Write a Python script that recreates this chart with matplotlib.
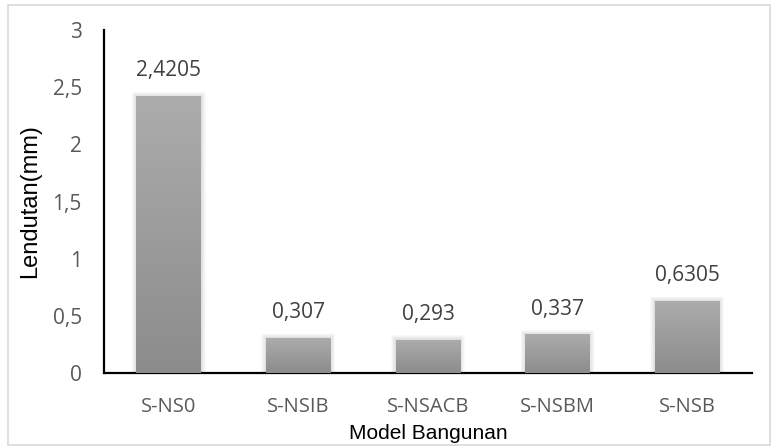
import matplotlib.pyplot as plt
import numpy as np
from matplotlib.patches import Rectangle

models = ['S-NS0', 'S-NSIB', 'S-NSACB', 'S-NSBM', 'S-NSB']
lendutan = [2.4205, 0.307, 0.293, 0.337, 0.6305]
yticks = [0, 0.5, 1, 1.5, 2, 2.5, 3]


def koma(v):
    return ('%g' % v).replace('.', ',')


fig = plt.figure(figsize=(7.72, 4.48), dpi=100)
fig.patches.append(Rectangle((0.011, 0.006), 0.986, 0.983, transform=fig.transFigure,
                             fill=False, edgecolor='#d9d9d9', linewidth=1.2))
ax = fig.add_axes([0.1347, 0.1674, 0.8393, 0.7656])

x = np.arange(len(models))
bars = ax.bar(x, lendutan, width=0.5, color='#a0a0a0', zorder=2)

# vertical gradient: lighter at top, darker at the base
n = 100
t = np.linspace(0, 1, n)
bot = np.array([0x8c, 0x8c, 0x8c]) / 255
top = np.array([0xac, 0xac, 0xac]) / 255
grad = (bot[None, :] * (1 - t[:, None]) + top[None, :] * t[:, None]).reshape(n, 1, 3)

for b, v in zip(bars, lendutan):
    x0, w, h = b.get_x(), b.get_width(), b.get_height()
    # soft glow around the bar
    for k in np.linspace(0.004, 0.035, 6):
        ax.add_patch(Rectangle((x0 - k, 0), w + 2 * k, h + k * 1.1, facecolor='#707070',
                               edgecolor='none', alpha=0.035, zorder=1))
    im = ax.imshow(grad, extent=[x0, x0 + w, 0, h], origin='lower', aspect='auto', zorder=3)
    im.set_clip_path(b)
    ax.text(b.get_x() + w / 2, h + 0.13, koma(v), ha='center', va='bottom',
            fontsize=15, color='#404040', family='Open Sans')

ax.set_xlim(-0.5, len(models) - 0.5)
ax.set_ylim(0, 3)
ax.set_xticks(x)
ax.set_xticklabels(models, fontsize=14.5, color='#595959', family='Open Sans')
ax.set_yticks(yticks)
ax.set_yticklabels([koma(t) for t in yticks], fontsize=15, color='#595959', family='Open Sans')
ax.tick_params(axis='y', length=0, pad=16)
ax.tick_params(axis='x', length=0, pad=17)

for s in ['top', 'right']:
    ax.spines[s].set_visible(False)
for s in ['left', 'bottom']:
    ax.spines[s].set_color('black')
    ax.spines[s].set_linewidth(1.6)

ax.set_xlabel('Model Bangunan', fontsize=15, family='Liberation Sans', labelpad=5)
ax.set_ylabel('Lendutan(mm)', fontsize=17, family='Liberation Sans', labelpad=8)

fig.savefig('out.png', dpi=100)
